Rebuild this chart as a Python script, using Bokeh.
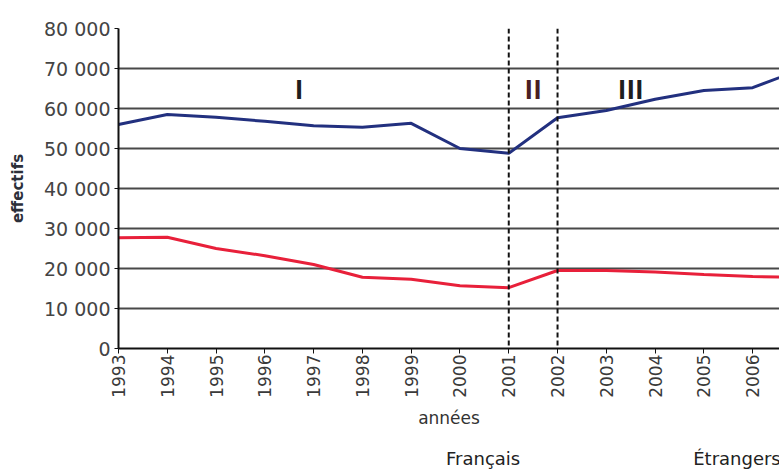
import math
from bokeh.plotting import figure
from bokeh.layouts import column
from bokeh.models import Range1d, Span, Legend, LegendItem, FixedTicker, ColumnDataSource
from bokeh.core.properties import value
from bokeh.embed import file_html
from bokeh.resources import INLINE

years = [1993, 1994, 1995, 1996, 1997, 1998, 1999, 2000, 2001, 2002, 2003, 2004, 2005, 2006, 2007]
francais = [56000, 58500, 57800, 56800, 55700, 55300, 56300, 50000, 48800, 57700, 59500, 62300, 64500, 65200, 69800]
etrangers = [27700, 27800, 25000, 23200, 21000, 17800, 17300, 15700, 15200, 19500, 19500, 19100, 18500, 18000, 17800]

x_ticks = [1993, 1994, 1995, 1996, 1997, 1998, 1999, 2000, 2001, 2002, 2003, 2004, 2005, 2006]
y_ticks = [0, 10000, 20000, 30000, 40000, 50000, 60000, 70000, 80000]
y_tick_labels = ["0", "10 000", "20 000", "30 000", "40 000", "50 000", "60 000", "70 000", "80 000"]

series_names = ["Français", "Étrangers"]
series_colors = ["#22307f", "#e8203a"]

periods = ["I", "II", "III"]
period_x = [1996.7, 2001.5, 2003.5]
period_y = [65000, 65000, 65000]
period_colors = ["#1e1e1e", "#4a1f22", "#1e1e1e"]
breaks = [2001, 2002]

FONT = "DejaVu Sans"

p = figure(frame_width=661, frame_height=320, output_backend="svg", toolbar_location=None,
           x_range=Range1d(1993, 2006.55), y_range=Range1d(0, 80000),
           min_border_left=118, min_border_right=0, min_border_top=28, min_border_bottom=96,
           background_fill_color="white", border_fill_color="white")
p.outline_line_color = None

# grid
p.xgrid.visible = False
p.ygrid.ticker = FixedTicker(ticks=y_ticks)
p.ygrid.grid_line_color = "#484848"
p.ygrid.grid_line_width = 2

# y axis
p.yaxis.ticker = FixedTicker(ticks=y_ticks)
p.yaxis.major_label_overrides = {t: l for t, l in zip(y_ticks, y_tick_labels)}
p.yaxis.axis_line_color = "#111111"
p.yaxis.axis_line_width = 2
p.yaxis.major_tick_line_color = "#111111"
p.yaxis.major_tick_in = 0
p.yaxis.major_tick_out = 4
p.yaxis.minor_tick_line_color = None
p.yaxis.major_label_text_font = FONT
p.yaxis.major_label_text_font_size = "19px"
p.yaxis.major_label_text_color = "#444444"
p.yaxis.major_label_standoff = 4
p.yaxis.axis_label = "effectifs"
p.yaxis.axis_label_text_font = FONT
p.yaxis.axis_label_text_font_size = "15px"
p.yaxis.axis_label_text_font_style = "bold"
p.yaxis.axis_label_text_color = "#2b2f3a"
p.yaxis.axis_label_standoff = 14

# x axis
p.xaxis.ticker = FixedTicker(ticks=x_ticks)
p.xaxis.axis_line_color = "#111111"
p.xaxis.axis_line_width = 2
p.xaxis.major_tick_line_color = "#111111"
p.xaxis.major_tick_in = 0
p.xaxis.major_tick_out = 5
p.xaxis.minor_tick_line_color = None
p.xaxis.major_label_orientation = math.pi / 2
p.xaxis.major_label_text_font = FONT
p.xaxis.major_label_text_font_size = "17px"
p.xaxis.major_label_text_color = "#3a3a3a"
p.xaxis.major_label_standoff = 1
p.xaxis.axis_label = "années"
p.xaxis.axis_label_text_font = FONT
p.xaxis.axis_label_text_font_size = "17px"
p.xaxis.axis_label_text_font_style = "normal"
p.xaxis.axis_label_text_color = "#333333"
p.xaxis.axis_label_standoff = 7

# lines
src = ColumnDataSource(dict(year=years, fr=francais, et=etrangers))
p.line("year", "fr", source=src, line_color=series_colors[0], line_width=3)
p.line("year", "et", source=src, line_color=series_colors[1], line_width=3)

# period separators
for b in breaks:
    p.add_layout(Span(location=b, dimension="height", line_color="#111111",
                      line_width=2, line_dash="5 3"))

# period labels
tsrc = ColumnDataSource(dict(x=period_x, y=period_y, t=periods, c=period_colors))
p.text("x", "y", text="t", source=tsrc, text_color="c", text_align="center",
       text_baseline="middle", text_font=value("Open Sans"), text_font_style="bold",
       text_font_size="26px")

# legend strip below the chart
p2 = figure(width=779, height=28, output_backend="svg", toolbar_location=None,
            x_axis_type=None, y_axis_type=None,
            x_range=Range1d(0, 1), y_range=Range1d(0, 1),
            min_border_left=0, min_border_right=0, min_border_top=0, min_border_bottom=0,
            background_fill_color="white", border_fill_color="white")
p2.outline_line_color = None
p2.xgrid.visible = False
p2.ygrid.visible = False
items = []
for name, col in zip(series_names, series_colors):
    r = p2.line(x=[], y=[], line_color=col, line_width=3)
    items.append(LegendItem(label=name, renderers=[r]))

legend = Legend(items=items, orientation="horizontal", location=(218, 3),
                glyph_width=88, glyph_height=18, label_height=18, label_standoff=22, spacing=63,
                border_line_color=None, background_fill_alpha=0,
                label_text_font=FONT, label_text_font_size="18px",
                label_text_color="#222222", padding=0, margin=0)
p2.add_layout(legend)

layout = column(p, p2, spacing=0)
open("out.html", "w").write(file_html(layout, INLINE))
